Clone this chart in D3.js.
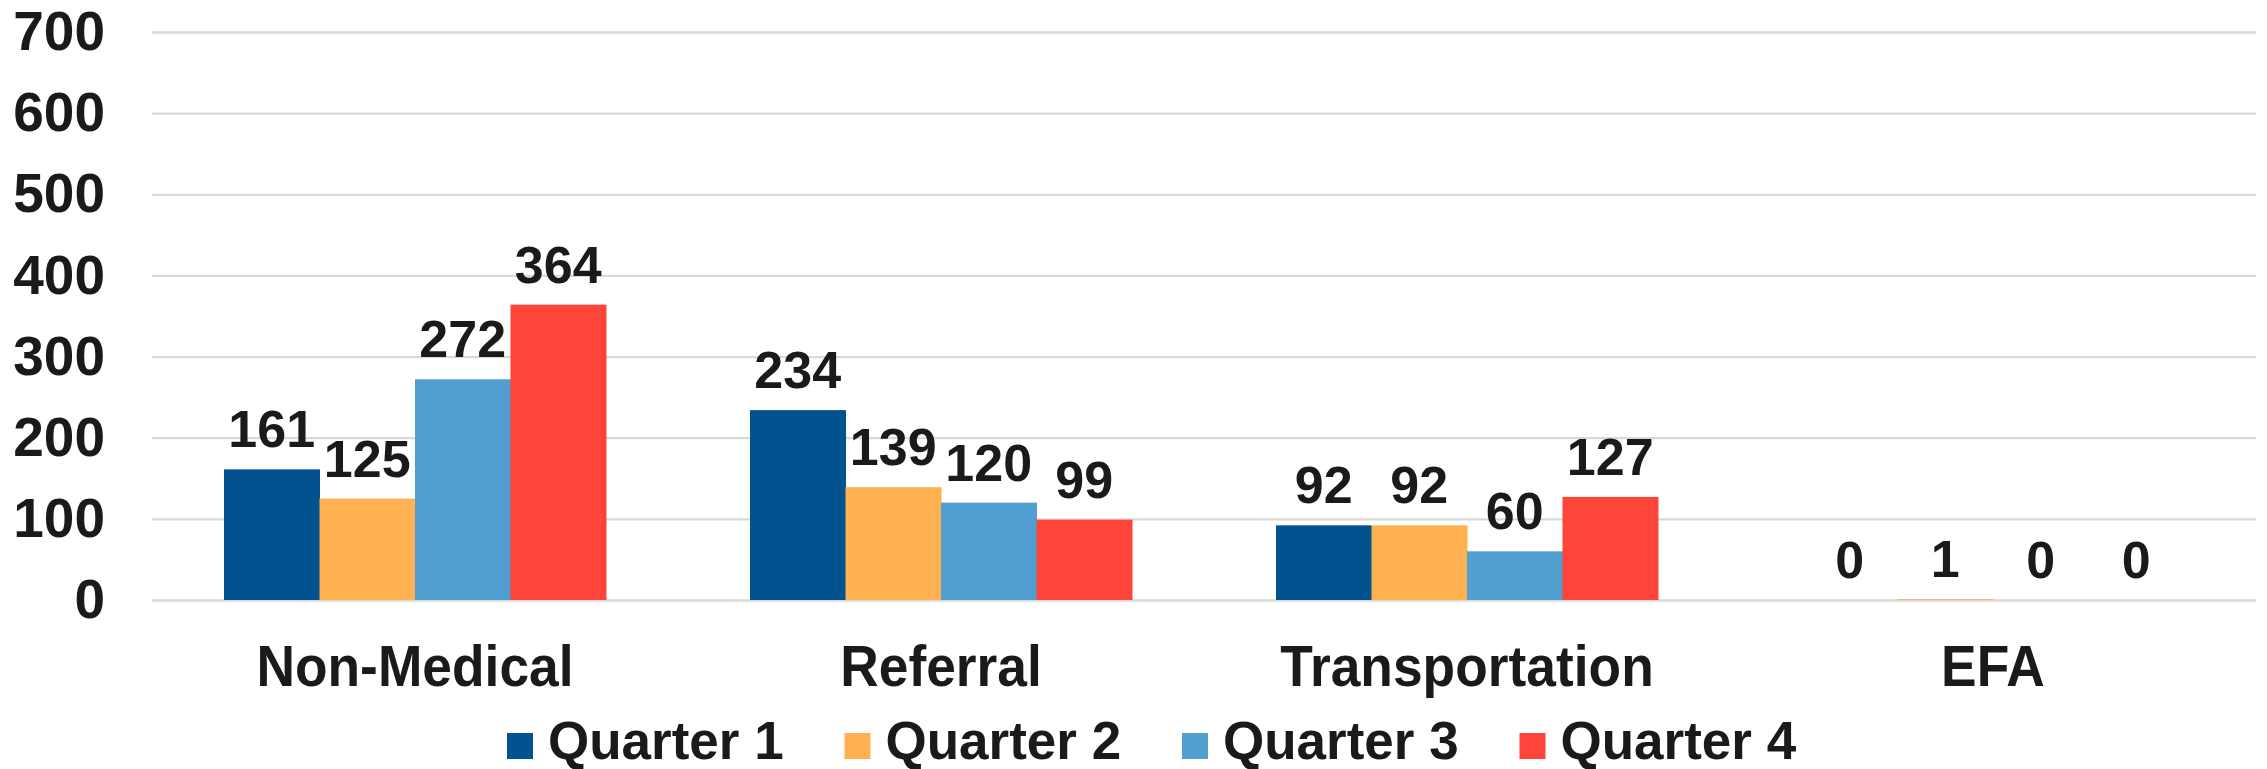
<!DOCTYPE html>
<html>
<head>
<meta charset="utf-8">
<script src="https://cdn.jsdelivr.net/npm/d3@7"></script>
<style>
  html, body { margin: 0; padding: 0; background: #ffffff; }
  svg text { font-family: "Liberation Sans", Arial, sans-serif; font-weight: bold; fill: #1a1a1a; }
</style>
</head>
<body>
<div id="chart"></div>
<script>
// chart values
const categories = ['Non-Medical', 'Referral', 'Transportation', 'EFA'];
const seriesNames = ['Quarter 1', 'Quarter 2', 'Quarter 3', 'Quarter 4'];
const quarter1 = [161, 234, 92, 0];
const quarter2 = [125, 139, 92, 1];
const quarter3 = [272, 120, 60, 0];
const quarter4 = [364, 99, 127, 0];
const yTicks = [0, 100, 200, 300, 400, 500, 600, 700];
const colors = ['#02528f', '#ffb151', '#519fd0', '#ff443a'];

const seriesValues = [quarter1, quarter2, quarter3, quarter4];

const width = 2267;
const height = 769;
const plot = { left: 152, right: 2256, top: 32, bottom: 600 };

const svg = d3.select('#chart').append('svg')
    .attr('width', width)
    .attr('height', height);

const y = d3.scaleLinear()
    .domain([0, 700])
    .range([plot.bottom, plot.top]);

const x0 = d3.scaleBand()
    .domain(categories)
    .range([plot.left, plot.right])
    .paddingInner(0.2738)
    .paddingOuter(0.1369);

const x1 = d3.scaleBand()
    .domain(seriesNames)
    .range([0, x0.bandwidth()])
    .padding(0);

// gridlines + tick labels
const yAxis = svg.append('g')
    .attr('transform', 'translate(' + plot.left + ',0)')
    .call(d3.axisLeft(y).tickValues(yTicks).tickSize(-(plot.right - plot.left)).tickPadding(47));
yAxis.select('.domain').remove();
yAxis.selectAll('.tick line').attr('stroke', '#d9d9d9').attr('stroke-width', 2.3);
yAxis.selectAll('.tick text')
    .style('font-size', '55px')
    .attr('fill', '#1a1a1a');

// bars
const rows = categories.map((c, i) => ({
    category: c,
    values: seriesNames.map((s, j) => ({ series: s, value: seriesValues[j][i], color: colors[j] }))
}));

const groups = svg.append('g').selectAll('g')
    .data(rows)
    .enter()
    .append('g')
    .attr('transform', d => 'translate(' + x0(d.category) + ',0)');

groups.selectAll('rect')
    .data(d => d.values)
    .enter()
    .append('rect')
    .attr('x', d => x1(d.series))
    .attr('y', d => y(d.value))
    .attr('width', x1.bandwidth() + 0.5)
    .attr('height', d => y(0) - y(d.value))
    .attr('fill', d => d.color);

groups.selectAll('text.value')
    .data(d => d.values)
    .enter()
    .append('text')
    .attr('class', 'value')
    .attr('x', d => x1(d.series) + x1.bandwidth() / 2)
    .attr('y', d => y(d.value) - 22)
    .attr('text-anchor', 'middle')
    .style('font-size', '52px')
    .text(d => d.value);

// category axis
const xAxis = svg.append('g')
    .attr('transform', 'translate(0,' + plot.bottom + ')')
    .call(d3.axisBottom(x0).tickSize(0));
xAxis.select('.domain').remove();
xAxis.selectAll('.tick text')
    .attr('y', 86)
    .attr('dy', 0)
    .attr('fill', '#1a1a1a')
    .attr('transform', 'scale(0.92,1)')
    .style('font-size', '58px');

// legend
const legendStep = 337.5;
const legend = svg.append('g')
    .attr('transform', 'translate(507,733)');

const items = legend.selectAll('g')
    .data(seriesNames)
    .enter()
    .append('g')
    .attr('transform', (d, i) => 'translate(' + (i * legendStep) + ',0)');

items.append('rect')
    .attr('width', 26)
    .attr('height', 26)
    .attr('fill', (d, i) => colors[i]);

items.append('text')
    .attr('x', 41)
    .attr('y', 26)
    .style('font-size', '53px')
    .text(d => d);
</script>
</body>
</html>
